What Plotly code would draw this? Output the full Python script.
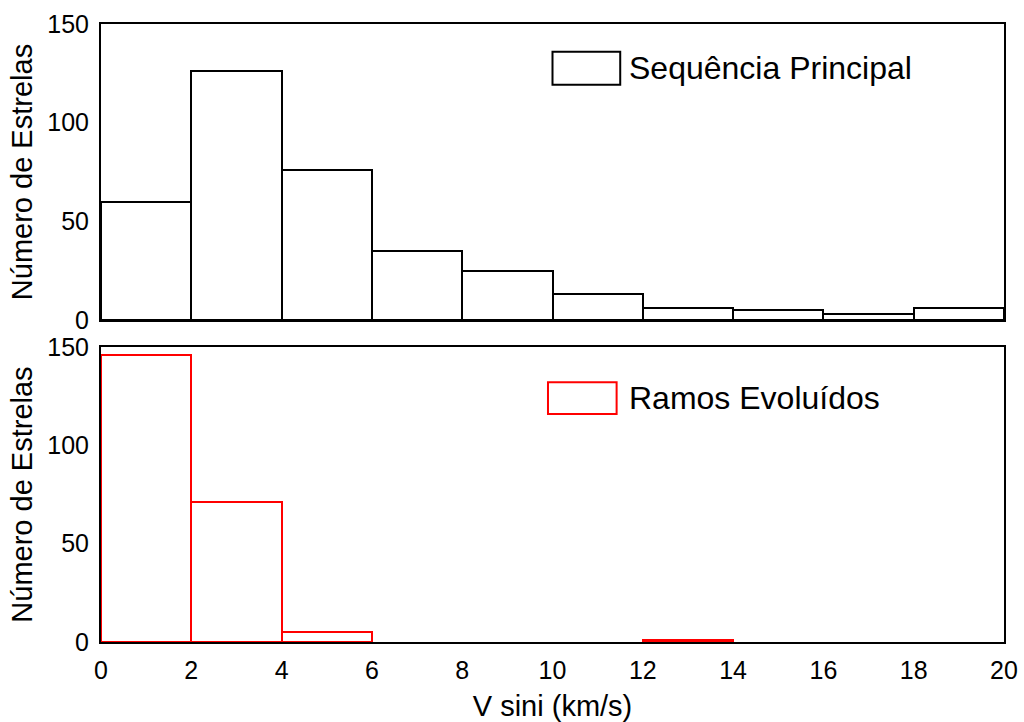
import plotly.graph_objects as go
from plotly.subplots import make_subplots

bin_centers = [1, 3, 5, 7, 9, 11, 13, 15, 17, 19]
bin_width = 2
seq_principal = [60, 126, 76, 35, 25, 13, 6, 5, 3, 6]
ramos_evoluidos = [146, 71, 5, 0, 0, 0, 1, 0, 0, 0]
x_ticks = [0, 2, 4, 6, 8, 10, 12, 14, 16, 18, 20]
y_ticks = [0, 50, 100, 150]

FONT = "Liberation Sans, Arial, sans-serif"


def nonzero(vals):
    return [v if v > 0 else None for v in vals]


fig = make_subplots(rows=2, cols=1, shared_xaxes=False, vertical_spacing=0.0437)

fig.add_trace(go.Bar(x=bin_centers, y=nonzero(seq_principal), width=[bin_width]*len(bin_centers),
                     marker=dict(color="rgba(255,255,255,0)", line=dict(color="black", width=2)),
                     name="Sequência Principal", showlegend=False), row=1, col=1)
fig.add_trace(go.Bar(x=bin_centers, y=nonzero(ramos_evoluidos), width=[bin_width]*len(bin_centers),
                     marker=dict(color="rgba(255,255,255,0)", line=dict(color="#ff0000", width=2)),
                     name="Ramos Evoluídos", showlegend=False), row=2, col=1)

axis_common = dict(showline=True, linecolor="black", linewidth=2, mirror=True,
                   showgrid=False, zeroline=False, ticks="outside", ticklen=5,
                   tickcolor="rgba(0,0,0,0)", tickfont=dict(family=FONT, size=25, color="black"),
                   automargin=False)

fig.update_xaxes(range=[0, 20], tickvals=x_ticks, **axis_common)
fig.update_xaxes(showticklabels=False, row=1, col=1)
fig.update_xaxes(title=dict(text="V sini (km/s)", font=dict(family=FONT, size=29, color="black"), standoff=14),
                 row=2, col=1)
fig.update_yaxes(range=[0, 150], tickvals=y_ticks,
                 title=dict(text="Número de Estrelas", font=dict(family=FONT, size=29, color="black"), standoff=6),
                 **axis_common)

fig.update_layout(
    width=1024, height=722,
    margin=dict(l=101, r=20, t=24, b=80),
    paper_bgcolor="white", plot_bgcolor="white",
    bargap=0, showlegend=False,
    font=dict(family=FONT, size=25, color="black"),
)
fig.update_yaxes(domain=[0.521, 1.0], row=1, col=1)
fig.update_yaxes(domain=[0.0, 0.4773], row=2, col=1)

# legend boxes
fig.add_shape(type="rect", xref="x domain", yref="y domain", x0=0.5, x1=0.575, y0=0.795, y1=0.906,
              line=dict(color="black", width=2), fillcolor="white", row=1, col=1)
fig.add_annotation(xref="x domain", yref="y domain", x=0.583, y=0.85, xanchor="left", yanchor="middle",
                   text="Sequência Principal", showarrow=False,
                   font=dict(family=FONT, size=32, color="black"), row=1, col=1)
fig.add_shape(type="rect", xref="x2 domain", yref="y2 domain", x0=0.495, x1=0.571, y0=0.773, y1=0.881,
              line=dict(color="#ff0000", width=2), fillcolor="white", row=2, col=1)
fig.add_annotation(xref="x2 domain", yref="y2 domain", x=0.583, y=0.827, xanchor="left", yanchor="middle",
                   text="Ramos Evoluídos", showarrow=False,
                   font=dict(family=FONT, size=32, color="black"), row=2, col=1)

fig.write_html("out.html")
